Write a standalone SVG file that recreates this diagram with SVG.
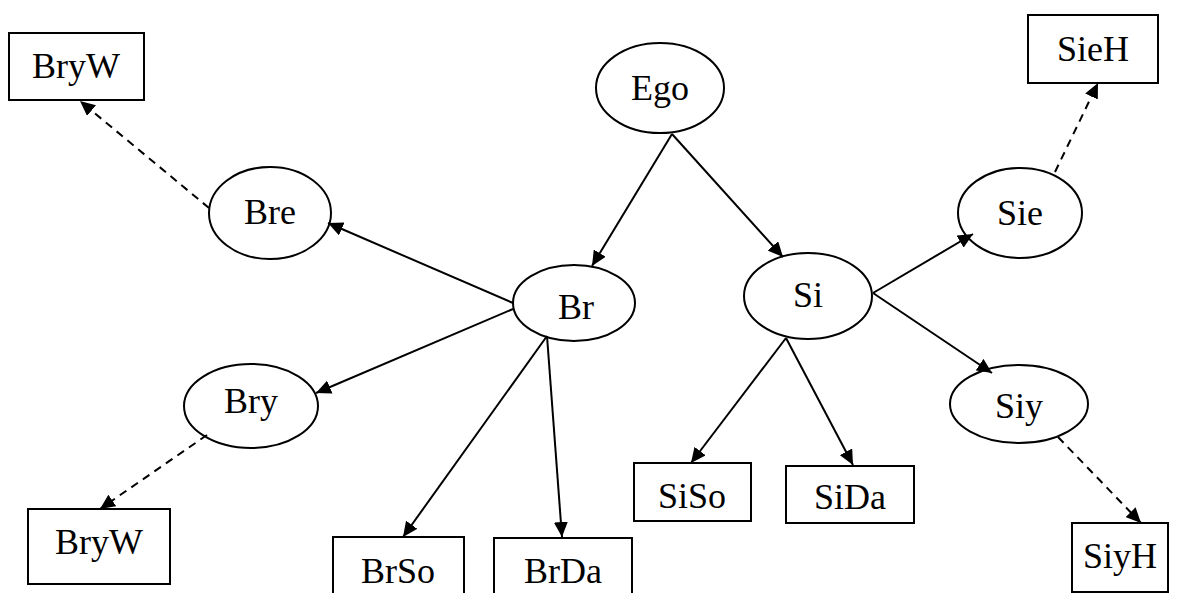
<svg xmlns="http://www.w3.org/2000/svg" width="1187" height="593" viewBox="0 0 1187 593">
  <style>
    .node ellipse, .node rect { fill: #fff; stroke: #000; stroke-width: 2; }
    .node text { font-family: "Liberation Serif", "Times New Roman", serif; font-size: 36px; fill: #000; text-anchor: middle; }
    .edge { stroke: #000; stroke-width: 2; fill: none; marker-end: url(#arrow); }
    .dashed { stroke-dasharray: 8 6; }
  </style>
  <defs>
    <marker id="arrow" markerUnits="userSpaceOnUse" markerWidth="16" markerHeight="14" refX="15" refY="7" orient="auto">
      <path d="M0,0 L15,7 L0,14 z" fill="#000"/>
    </marker>
  </defs>

  <!-- nodes first, so arrowheads stay on top of outlines -->
  <g id="ego" class="node">
    <ellipse cx="660" cy="88" rx="64" ry="45"/>
    <text x="660" y="100">Ego</text>
  </g>
  <g id="br" class="node">
    <ellipse cx="574" cy="303" rx="61" ry="38"/>
    <text x="576" y="319">Br</text>
  </g>
  <g id="si" class="node">
    <ellipse cx="808" cy="296" rx="64" ry="43"/>
    <text x="808" y="307">Si</text>
  </g>
  <g id="bre" class="node">
    <ellipse cx="270" cy="213" rx="61" ry="46"/>
    <text x="270" y="224">Bre</text>
  </g>
  <g id="bry" class="node">
    <ellipse cx="251" cy="406" rx="67" ry="42"/>
    <text x="251" y="413">Bry</text>
  </g>
  <g id="sie" class="node">
    <ellipse cx="1020" cy="213" rx="62" ry="45"/>
    <text x="1020" y="225">Sie</text>
  </g>
  <g id="siy" class="node">
    <ellipse cx="1019" cy="404" rx="69" ry="39"/>
    <text x="1019" y="418">Siy</text>
  </g>
  <g id="bryw-top" class="node">
    <rect x="9" y="33" width="135" height="67"/>
    <text x="76" y="78">BryW</text>
  </g>
  <g id="bryw-bottom" class="node">
    <rect x="28" y="509" width="142" height="75"/>
    <text x="99" y="554">BryW</text>
  </g>
  <g id="brso" class="node">
    <rect x="333" y="537" width="131" height="70"/>
    <text x="398" y="583">BrSo</text>
  </g>
  <g id="brda" class="node">
    <rect x="494" y="538" width="138" height="70"/>
    <text x="563" y="583">BrDa</text>
  </g>
  <g id="siso" class="node">
    <rect x="634" y="463" width="117" height="58"/>
    <text x="692" y="508">SiSo</text>
  </g>
  <g id="sida" class="node">
    <rect x="786" y="466" width="128" height="57"/>
    <text x="850" y="509">SiDa</text>
  </g>
  <g id="sieh" class="node">
    <rect x="1028" y="15" width="130" height="68"/>
    <text x="1093" y="61">SieH</text>
  </g>
  <g id="siyh" class="node">
    <rect x="1072" y="523" width="96" height="69"/>
    <text x="1120" y="568">SiyH</text>
  </g>

  <g id="connectors">
    <line class="edge" x1="672" y1="134" x2="592" y2="266"/>
    <line class="edge" x1="672" y1="134" x2="783" y2="257"/>
    <line class="edge" x1="513" y1="303" x2="328" y2="223"/>
    <line class="edge" x1="513" y1="309" x2="316" y2="393"/>
    <line class="edge" x1="547" y1="336" x2="403" y2="537"/>
    <line class="edge" x1="547" y1="336" x2="562" y2="537"/>
    <line class="edge" x1="786" y1="338" x2="691" y2="463"/>
    <line class="edge" x1="786" y1="338" x2="853" y2="465"/>
    <line class="edge" x1="873" y1="293" x2="973" y2="234"/>
    <line class="edge" x1="873" y1="293" x2="992" y2="373"/>
    <line class="edge dashed" x1="209" y1="208" x2="80" y2="101"/>
    <line class="edge dashed" x1="207" y1="435" x2="100" y2="509"/>
    <line class="edge dashed" x1="1055" y1="172" x2="1098" y2="83"/>
    <line class="edge dashed" x1="1058" y1="437" x2="1141" y2="523"/>
  </g>
</svg>
